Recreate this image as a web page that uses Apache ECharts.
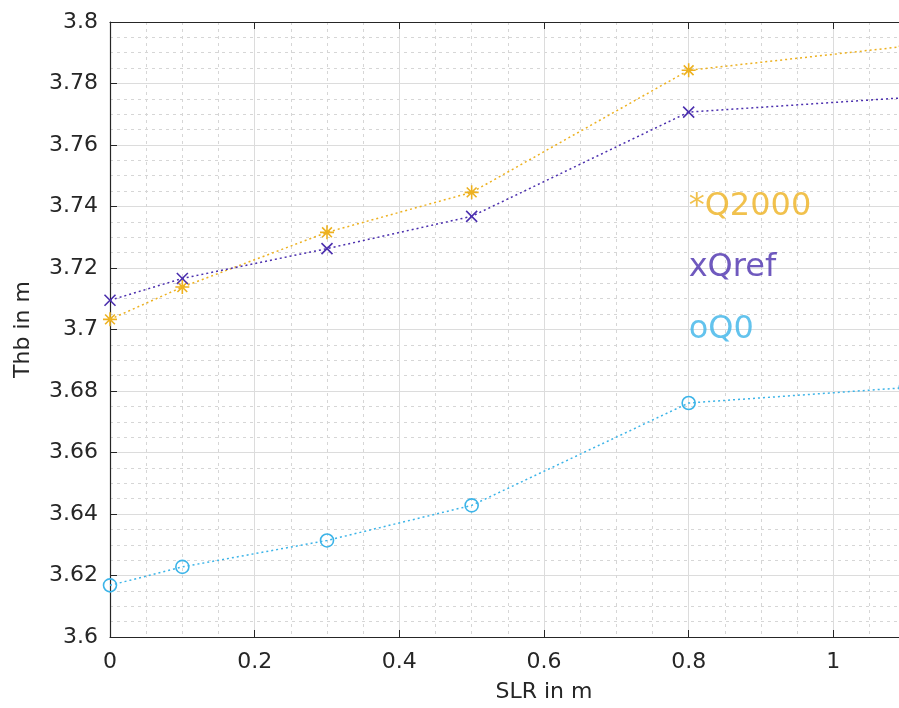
<!DOCTYPE html>
<html>
<head>
<meta charset="utf-8">
<script src="https://cdn.jsdelivr.net/npm/echarts@6/dist/echarts.min.js"></script>
<style>
html,body{margin:0;padding:0;background:#fff;overflow:hidden;width:899px;height:708px;}
#chart{width:980px;height:708px;}
</style>
</head>
<body>
<div id="chart"></div>
<script>
// ---- data ----
const slr = [0, 0.1, 0.3, 0.5, 0.8, 1.1];
const q2000 = [3.7033, 3.7138, 3.7316, 3.7446, 3.7843, 3.7921];
const qref = [3.7095, 3.7166, 3.7263, 3.7368, 3.7707, 3.7754];
const q0 = [3.6168, 3.6228, 3.6314, 3.6428, 3.6761, 3.6811];
const xTickLabels = ['0', '0.2', '0.4', '0.6', '0.8', '1'];
const yTickLabels = ['3.6', '3.62', '3.64', '3.66', '3.68', '3.7', '3.72', '3.74', '3.76', '3.78', '3.8'];
const noteTexts = ['*Q2000', 'xQref', 'oQ0'];
const noteX = [0.8, 0.8, 0.8];
const noteY = [3.74, 3.72, 3.70];
const xTitle = 'SLR in m';
const yTitle = 'Thb in m';

// ---- style ----
const colors = ['#EDB120', '#4B2FAE', '#3CB4E8'];
const textColor = '#262626';
const font = 'DejaVu Sans';
const starPath = 'path://M0,-10L0,10M-10,0L10,0M-7,-7L7,7M-7,7L7,-7';
const crossPath = 'path://M-10,-10L10,10M-10,10L10,-10';

function pairs(xs, ys) { return xs.map((x, i) => [x, ys[i]]); }

function lineSeries(name, ys, color, symbol, size) {
  return {
    name: name, type: 'line', data: pairs(slr, ys),
    symbol: symbol, symbolSize: size, showAllSymbol: true,
    clip: false, z: 3,
    lineStyle: { color: color, width: 1.5, type: [2, 3] },
    itemStyle: { color: 'rgba(255,255,255,0)', borderColor: color, borderWidth: 1.6 },
    emphasis: { disabled: true }
  };
}

const chart = echarts.init(document.getElementById('chart'), null, { renderer: 'canvas' });
const axisLineStyle = { color: textColor, width: 1.2 };
const option = {
  animation: false,
  backgroundColor: '#fff',
  textStyle: { fontFamily: font },
  grid: { left: 110, top: 22, right: 2, bottom: 71, containLabel: false },
  xAxis: [{
    type: 'value', min: 0, max: 1.2, interval: 0.2, position: 'bottom',
    name: xTitle, nameLocation: 'middle', nameGap: 44,
    nameTextStyle: { color: textColor, fontSize: 22, fontFamily: font },
    axisLine: { show: true, onZero: false, lineStyle: axisLineStyle },
    axisTick: { show: true, inside: true, length: 7, lineStyle: { color: textColor } },
    axisLabel: { color: textColor, fontSize: 22, fontFamily: font, margin: 14, showMaxLabel: false,
      formatter: (v, i) => xTickLabels[i] !== undefined ? xTickLabels[i] : '' },
    splitLine: { show: true, lineStyle: { color: '#dcdcdc', width: 1 } },
    minorTick: { show: false, splitNumber: 4 },
    minorSplitLine: { show: true, lineStyle: { color: '#d6d6d6', width: 1, type: [3, 4] } }
  }, {
    type: 'value', min: 0, max: 1.2, interval: 0.2, position: 'top',
    axisLine: { show: true, onZero: false, lineStyle: axisLineStyle },
    axisTick: { show: true, inside: true, length: 7, lineStyle: { color: textColor } },
    axisLabel: { show: false }, splitLine: { show: false }
  }],
  yAxis: [{
    type: 'value', min: 3.6, max: 3.8, interval: 0.02, position: 'left',
    name: yTitle, nameLocation: 'middle', nameGap: 76,
    nameTextStyle: { color: textColor, fontSize: 22, fontFamily: font },
    axisLine: { show: true, onZero: false, lineStyle: axisLineStyle },
    axisTick: { show: true, inside: true, length: 7, lineStyle: { color: textColor } },
    axisLabel: { color: textColor, fontSize: 22, fontFamily: font, margin: 12,
      formatter: (v, i) => yTickLabels[i] !== undefined ? yTickLabels[i] : '' },
    splitLine: { show: true, lineStyle: { color: '#dcdcdc', width: 1 } },
    minorTick: { show: false, splitNumber: 4 },
    minorSplitLine: { show: true, lineStyle: { color: '#d6d6d6', width: 1, type: [3, 4] } }
  }, {
    type: 'value', min: 3.6, max: 3.8, interval: 0.02, position: 'right', offset: -72,
    axisLine: { show: true, onZero: false, lineStyle: axisLineStyle },
    axisTick: { show: true, inside: true, length: 7, lineStyle: { color: textColor } },
    axisLabel: { show: false }, splitLine: { show: false }
  }],
  series: [
    lineSeries('Q2000', q2000, colors[0], starPath, 14),
    lineSeries('Qref', qref, colors[1], crossPath, 11),
    lineSeries('Q0', q0, colors[2], 'circle', 13),
    {
      type: 'scatter', symbolSize: 0, z: 4, silent: true,
      data: noteTexts.map((t, i) => ({
        value: [noteX[i], noteY[i]], name: t,
        label: { color: colors[i] }
      })),
      label: { show: true, position: 'right', distance: 0, fontSize: 32, fontFamily: font,
        formatter: p => p.name }
    }
  ]
};
chart.setOption(option);
</script>
</body>
</html>
